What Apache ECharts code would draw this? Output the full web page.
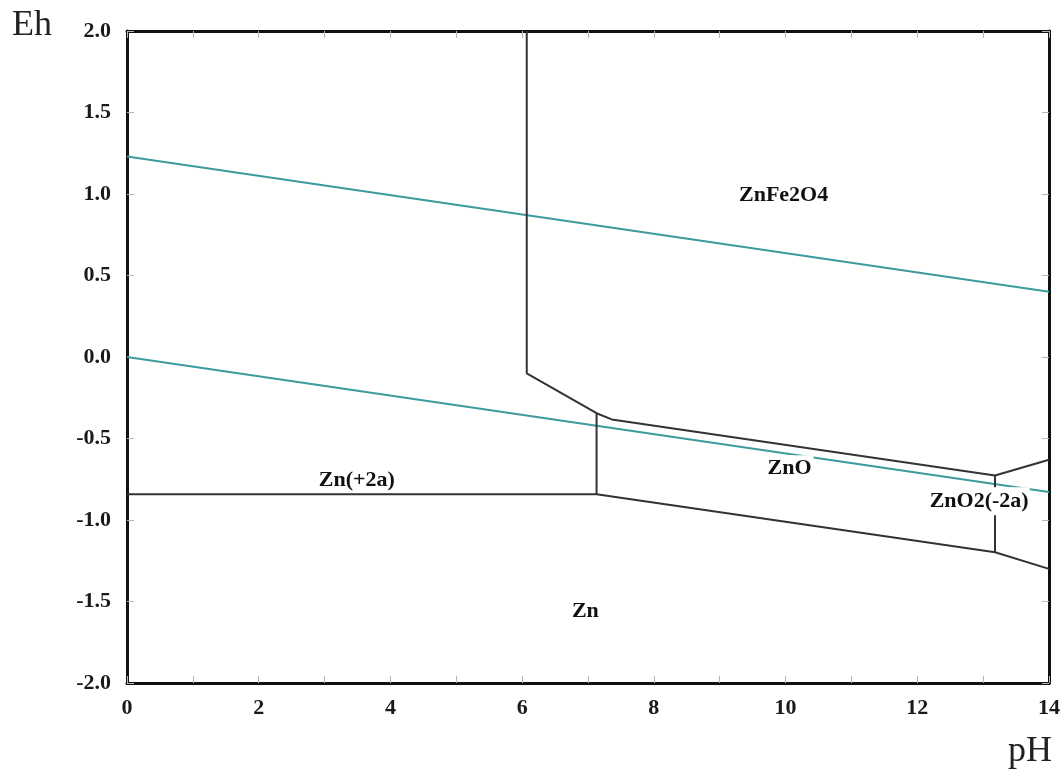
<!DOCTYPE html>
<html>
<head>
<meta charset="utf-8">
<title>Eh-pH diagram: Zn-Fe-H2O</title>
<script src="https://cdn.jsdelivr.net/npm/echarts@6/dist/echarts.min.js"></script>
<style>
  html, body { margin: 0; padding: 0; background: #fff; }
  #chart { width: 1063px; height: 773px; }
</style>
</head>
<body>
<div id="chart"></div>
<script>
// Stability-field boundaries, [pH, Eh] vertices
const znFe2O4Boundary = [[6.07, 2.0], [6.07, -0.10], [7.13, -0.345], [7.36, -0.383], [13.18, -0.727], [14.0, -0.630]];
const zn2aZnOBoundary = [[7.13, -0.345], [7.13, -0.842]];
const znBoundary = [[0.0, -0.842], [7.13, -0.842], [13.18, -1.198], [14.0, -1.300]];
const znOZnO2Boundary = [[13.18, -0.727], [13.18, -1.198]];

// Water stability limits
const waterUpper = [[0.0, 1.230], [14.0, 0.400]];
const waterLower = [[0.0, 0.000], [14.0, -0.828]];

// Field names and where they sit
const fieldNames = ['ZnFe2O4', 'Zn(+2a)', 'ZnO', 'ZnO2(-2a)', 'Zn'];
const fieldPH = [9.97, 3.49, 10.06, 12.94, 6.96];
const fieldEh = [0.995, -0.757, -0.683, -0.885, -1.559];

// Axis ranges and tick spacing
const phRange = [0, 14];
const ehRange = [-2.0, 2.0];
const phStep = 1;
const ehStep = 0.5;

const chart = echarts.init(document.getElementById('chart'), null, { renderer: 'canvas' });

const serif = '"Liberation Serif", "DejaVu Serif", serif';
const frame = { show: true, onZero: false, lineStyle: { color: '#111', width: 3 } };
const tick = { show: true, inside: true, length: 7, lineStyle: { color: '#b5b5b5', width: 1 } };
const tickLabel = { color: '#1a1a1a', fontFamily: serif, fontWeight: 'bold', fontSize: 22 };

function xAxisDef(pos, labels) {
  return {
    type: 'value', position: pos, min: phRange[0], max: phRange[1], interval: phStep,
    axisLine: frame, axisTick: tick, splitLine: { show: false },
    axisLabel: labels
      ? Object.assign({ margin: 14, formatter: v => (v % 2 === 0 ? String(v) : '') }, tickLabel)
      : { show: false }
  };
}
function yAxisDef(pos, labels) {
  return {
    type: 'value', position: pos, min: ehRange[0], max: ehRange[1], interval: ehStep,
    axisLine: frame, axisTick: tick, splitLine: { show: false },
    axisLabel: labels
      ? Object.assign({ margin: 16, formatter: v => v.toFixed(1) }, tickLabel)
      : { show: false }
  };
}

function boundary(data, color, width) {
  return {
    type: 'line', data: data, symbol: 'none', silent: true, z: 2,
    lineStyle: { color: color, width: width }, animation: false
  };
}

// labels that sit on a boundary get a white box so the line breaks around them
const boxedLabels = { 'ZnO2(-2a)': [3, 1], 'ZnO': [2, 2] };

const fieldData = fieldNames.map((n, i) => ({
  name: n,
  value: [fieldPH[i], fieldEh[i]],
  label: boxedLabels[n]
    ? { show: true, backgroundColor: '#ffffff', padding: boxedLabels[n] }
    : { show: true }
}));

chart.setOption({
  backgroundColor: '#fff',
  animation: false,
  grid: { left: 127, right: 12, top: 31, bottom: 90, containLabel: false },
  xAxis: [xAxisDef('bottom', true), xAxisDef('top', false)],
  yAxis: [yAxisDef('left', true), yAxisDef('right', false)],
  series: [
    boundary(waterUpper, '#3e9b9c', 2),
    boundary(waterLower, '#3e9b9c', 2),
    boundary(znFe2O4Boundary, '#333', 2),
    boundary(zn2aZnOBoundary, '#333', 2),
    boundary(znBoundary, '#333', 2),
    boundary(znOZnO2Boundary, '#333', 2),
    {
      type: 'scatter', data: fieldData, symbol: 'circle', symbolSize: 0,
      silent: true, z: 10, zlevel: 1,
      itemStyle: { color: '#111', opacity: 1 },
      label: {
        show: true, position: 'inside', formatter: '{b}', opacity: 1,
        color: '#111', textBorderWidth: 0, fontFamily: serif, fontWeight: 'bold', fontSize: 22
      }
    }
  ],
  graphic: [
    { type: 'text', left: 12, top: 8, style: { text: 'Eh', fontFamily: serif, fontSize: 36, fill: '#222' } },
    { type: 'text', left: 1008, top: 734, style: { text: 'pH', fontFamily: serif, fontSize: 36, fill: '#222' } }
  ]
});
</script>
</body>
</html>
